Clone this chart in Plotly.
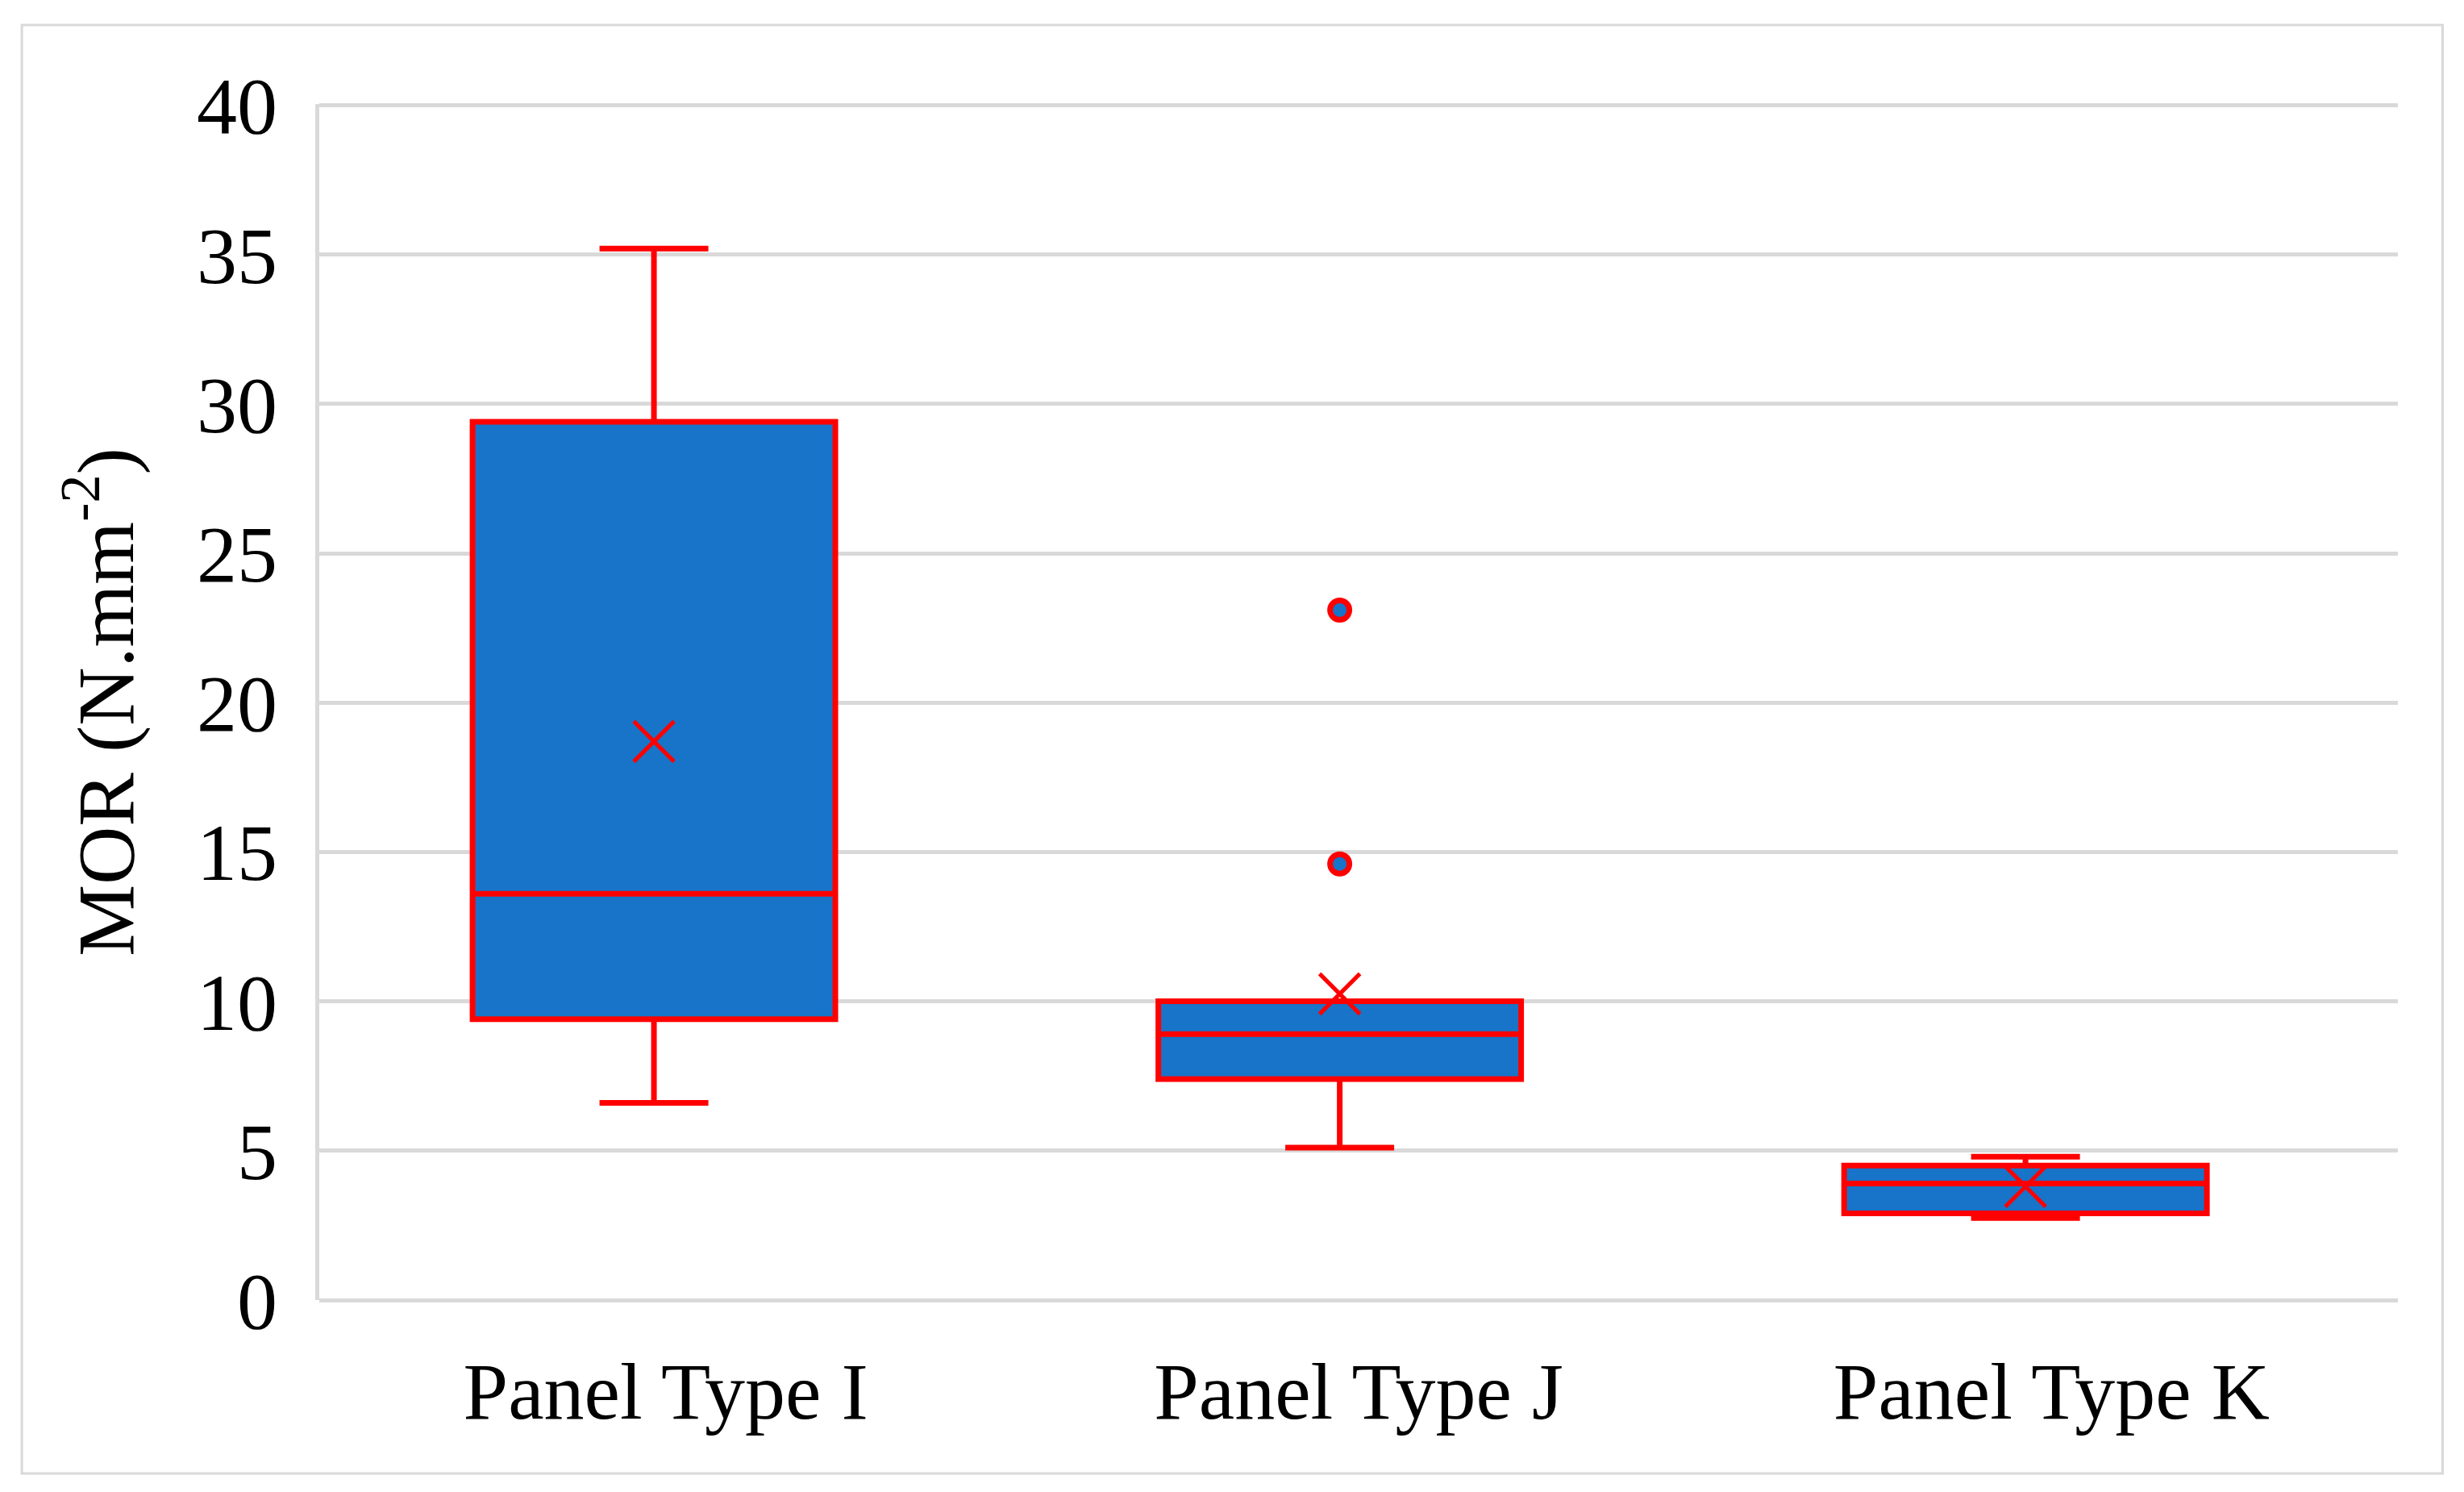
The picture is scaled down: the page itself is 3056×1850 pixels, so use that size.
import plotly.graph_objects as go

categories = ["Panel Type I", "Panel Type J", "Panel Type K"]
q1 = [9.4, 7.4, 2.9]
median = [13.6, 8.9, 3.9]
q3 = [29.4, 10.0, 4.5]
lowerfence = [6.6, 5.1, 2.75]
upperfence = [35.2, 10.0, 4.8]
means = [18.7, 10.25, 3.8]
outlier_cats = ["Panel Type J", "Panel Type J"]
outlier_vals = [23.1, 14.6]
y_ticks = [0, 5, 10, 15, 20, 25, 30, 35, 40]

RED = "#FF0000"
BLUE = "#1874C8"
GRID = "#D9D9D9"
FONT = "Liberation Serif"

fig = go.Figure()
fig.add_trace(go.Box(
    x=categories, q1=q1, median=median, q3=q3,
    lowerfence=lowerfence, upperfence=upperfence,
    fillcolor=BLUE, line=dict(color=RED, width=7),
    whiskerwidth=0.3, width=0.529, boxpoints=False, showlegend=False,
))
fig.add_trace(go.Scatter(
    x=categories, y=means, mode="markers",
    marker=dict(symbol="x-thin", size=50, line=dict(color=RED, width=5)),
    showlegend=False,
))
fig.add_trace(go.Scatter(
    x=outlier_cats, y=outlier_vals, mode="markers",
    marker=dict(symbol="circle", size=24, color=BLUE, line=dict(color=RED, width=7)),
    showlegend=False,
))
# invisible carrier so the category label axis renders its ticks
fig.add_trace(go.Scatter(
    x=categories, y=median, xaxis="x2", mode="markers",
    marker=dict(opacity=0), hoverinfo="skip", showlegend=False,
))

fig.update_layout(
    width=3048, height=1842,
    margin=dict(l=388, r=82, t=121, b=238),
    paper_bgcolor="white", plot_bgcolor="white",
    font=dict(family=FONT, size=100, color="black"),
    showlegend=False,
    shapes=[dict(type="rect", xref="paper", yref="paper",
                 x0=-0.1431, x1=1.0215, y0=-0.145, y1=1.0661,
                 line=dict(color=GRID, width=3), layer="below")],
    xaxis=dict(
        type="category", categoryorder="array", categoryarray=categories,
        range=[-0.488, 2.543], showgrid=False, showline=False, zeroline=False,
        ticks="", showticklabels=False,
    ),
    xaxis2=dict(
        type="category", categoryorder="array", categoryarray=categories,
        overlaying="x", side="bottom", anchor="y",
        range=[-0.5, 2.5], showgrid=False, showline=False, zeroline=False,
        ticks="", tickfont=dict(family=FONT, size=100), ticklabelstandoff=46,
    ),
)
fig.update_yaxes(
    range=[0, 40.04], tickvals=y_ticks, ticktext=[str(v) for v in y_ticks],
    showgrid=True, gridcolor=GRID, gridwidth=5,
    zeroline=True, zerolinecolor=GRID, zerolinewidth=5,
    showline=True, linecolor=GRID, linewidth=5,
    ticks="", tickfont=dict(family=FONT, size=100), ticklabelstandoff=27,
    title=dict(text="MOR (N.mm<sup>-2</sup>)", font=dict(family=FONT, size=100), standoff=47),
)

fig.write_html("out.html")
